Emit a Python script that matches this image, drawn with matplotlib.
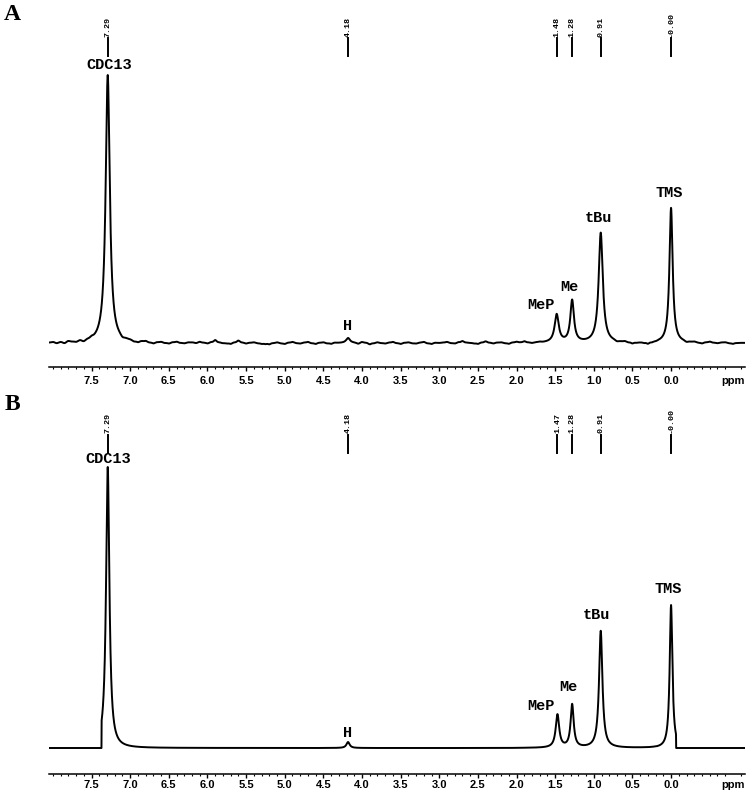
import numpy as np
import matplotlib.pyplot as plt

# ---- peak tables (shift in ppm, height in px above baseline) ----
peak_names = ['CDC13', 'H', 'MeP', 'Me', 'tBu', 'TMS']

peak_shift_a = [7.29, 4.18, 1.48, 1.28, 0.91, 0.00]
peak_height_a = [268, 5, 28, 42, 110, 135]
peak_hwhm_a = [0.032, 0.03, 0.032, 0.028, 0.032, 0.025]
shift_text_a = ['7.29', '4.18', '1.48', '1.28', '0.91', '-0.00']

peak_shift_b = [7.29, 4.18, 1.47, 1.28, 0.91, 0.00]
peak_height_b = [281, 6, 33, 43, 117, 143]
peak_hwhm_b = [0.026, 0.025, 0.027, 0.024, 0.026, 0.021]
# simulated trace B: each peak only defined between these limits (ppm)
peak_upper_b = [7.37, 4.6, 2.5, 2.5, 2.0, 0.8]
peak_lower_b = [5.0, 3.8, 0.3, 0.3, 0.2, -0.065]
shift_text_b = ['7.29', '4.18', '1.47', '1.28', '0.91', '-0.00']

# baseline ripple of trace A (ppm, px)
ripple_ppm = [8.0, 7.95, 7.9, 7.85, 7.8, 7.75, 7.7, 7.65, 7.6, 7.55, 7.5,
              7.1, 7.05, 7.0, 6.95, 6.9, 6.85, 6.8, 6.75, 6.7, 6.65, 6.6,
              6.55, 6.5, 6.45, 6.4, 6.35, 6.3, 6.25, 6.2, 6.15, 6.1, 6.05,
              6.0, 5.95, 5.9, 5.85, 5.8, 5.75, 5.7, 5.65, 5.6, 5.55, 5.5,
              5.45, 5.4, 5.35, 5.3, 5.25, 5.2, 5.15, 5.1, 5.05, 5.0, 4.95,
              4.9, 4.85, 4.8, 4.75, 4.7, 4.65, 4.6, 4.55, 4.5, 4.45, 4.4,
              4.35, 4.3, 4.05, 4.0, 3.95, 3.9, 3.85, 3.8, 3.75, 3.7, 3.65,
              3.6, 3.55, 3.5, 3.45, 3.4, 3.35, 3.3, 3.25, 3.2, 3.15, 3.1,
              3.05, 3.0, 2.95, 2.9, 2.85, 2.8, 2.75, 2.7, 2.65, 2.6, 2.55,
              2.5, 2.45, 2.4, 2.35, 2.3, 2.25, 2.2, 2.15, 2.1, 2.05, 2.0,
              1.95, 1.9, 1.85, 1.8, 1.75, 1.7, 0.7, 0.65, 0.6, 0.55, 0.5,
              0.45, 0.4, 0.35, 0.3, 0.25, 0.2, -0.2, -0.25, -0.3, -0.35,
              -0.4, -0.45, -0.5, -0.55, -0.6, -0.65, -0.7, -0.75, -0.8,
              -0.85, -0.9]
ripple_amp = [0.5, -0.8, 0.3, -1.0, 1.0, 0.2, -0.5, 0.8, -1.0, 0.5, 1.2,
              -1.2, 0.3, 0.5, -0.8, -1.0, 0.6, 1.0, -0.4, -1.2, 0.2, 0.6,
              -0.5, -1.0, 0.4, 1.0, -0.2, -0.6, 0.4, 0.5, -0.3, 1.0, 0.2,
              -0.6, 0.8, 2.8, 0.6, -0.3, -0.6, -1.0, 0.5, 2.3, 0.4, -0.6,
              0.2, 0.6, -0.4, -1.0, -1.2, -1.4, -0.2, 0.6, -0.4, -1.0, 0.3,
              1.0, -0.2, -0.6, 0.4, 1.0, -0.3, -1.0, 0.2, 0.6, -0.5, -1.0,
              0.2, 0.0, -1.0, 0.8, 0.2, -1.4, -0.4, 0.6, -0.2, -0.6, 0.4,
              1.0, -0.2, -1.0, 0.2, 0.6, -0.4, -0.6, 0.3, 1.0, -0.4, -1.0,
              0.2, 0.0, 0.5, 1.0, -0.2, -0.6, 0.8, 1.8, 0.4, 0.0, -0.6,
              -1.0, 0.4, 1.5, 0.2, -0.6, 0.3, 0.5, -0.4, -1.0, 0.3, 1.0,
              0.4, 1.4, 0.2, -0.5, 0.2, 0.5, -1.0, -0.2, 0.5, -0.6, -1.5,
              -0.8, -0.5, -1.2, -2.0, -1.0, -0.5, -1.0, 0.0, 0.5, -0.4,
              -1.0, 0.2, 1.0, 0.0, -0.5, 0.3, 0.5, -0.4, -1.0, -0.2, 0.0]

# label positions (ppm, px above baseline) - layout only
label_pos_a = [(7.27, 278), (4.19, 17), (1.68, 38), (1.32, 56), (0.94, 125), (0.03, 150)]
label_pos_b = [(7.28, 289), (4.19, 15), (1.69, 42), (1.33, 61), (0.96, 133), (0.04, 159)]

X_LEFT, X_RIGHT = 8.05, -0.957
MONO = 'Liberation Mono'
SANS = 'Liberation Sans'


def lorentz(x, x0, h, g):
    return h * g ** 2 / ((x - x0) ** 2 + g ** 2)


def build_trace(x, shifts, heights, widths, upper=None, lower=None):
    y = np.zeros_like(x)
    for i, (x0, h, g) in enumerate(zip(shifts, heights, widths)):
        part = lorentz(x, x0, h, g)
        if upper is not None:
            part[(x > upper[i]) | (x < lower[i])] = 0.0
        y += part
    return y


def draw_panel(ax, x, y, shifts, texts, label_pos, ylim, ann_line, ann_text_y,
               label_pad):
    ax.plot(x, y, color='black', lw=1.4)
    ax.set_xlim(X_LEFT, X_RIGHT)
    ax.set_ylim(*ylim)

    # peak names
    for name, (px, py) in zip(peak_names, label_pos):
        ax.text(px, py, name, ha='center', va='center', fontsize=11,
                family=MONO, fontweight='bold')

    # shift markers on top
    for s, t in zip(shifts, texts):
        ax.plot([s, s], ann_line, color='black', lw=1.4, clip_on=False)
        ax.text(s, ann_text_y, t, rotation=90, ha='center', va='bottom',
                fontsize=6, family=MONO, fontweight='bold')

    # ppm axis
    for side in ['left', 'right', 'top']:
        ax.spines[side].set_visible(False)
    ax.spines['bottom'].set_linewidth(1.1)
    ax.set_yticks([])
    majors = [7.5, 7.0, 6.5, 6.0, 5.5, 5.0, 4.5, 4.0, 3.5, 3.0, 2.5, 2.0,
              1.5, 1.0, 0.5, 0.0, -0.8]
    ax.set_xticks(majors)
    ax.set_xticklabels([f'{m:.1f}' for m in majors[:-1]] + ['ppm'])
    ax.get_xaxis().get_major_ticks()[-1].tick1line.set_visible(False)
    ax.set_xticks(np.round(np.arange(8.0, -0.95, -0.1), 1), minor=True)
    ax.tick_params(axis='x', which='major', length=3, width=1.0,
                   pad=label_pad, labelsize=8)
    ax.tick_params(axis='x', which='minor', length=1.5, width=0.8)
    for lab in ax.get_xticklabels():
        lab.set_fontfamily(SANS)
        lab.set_fontweight('bold')


x = np.linspace(X_LEFT, X_RIGHT, 8000)

trace_a = build_trace(x, peak_shift_a, peak_height_a, peak_hwhm_a)
for p, a in zip(ripple_ppm, ripple_amp):
    trace_a += a * np.exp(-0.5 * ((x - p) / 0.018) ** 2)

trace_b = build_trace(x, peak_shift_b, peak_height_b, peak_hwhm_b,
                      peak_upper_b, peak_lower_b)

fig = plt.figure(figsize=(7.5, 7.91), dpi=100)
W, H = 750.0, 791.0

# panel A: axis line at y=367 px, baseline at 343 px
ax_a = fig.add_axes([49 / W, (H - 367) / H, 696 / W, 367 / H])
draw_panel(ax_a, x, trace_a, peak_shift_a, shift_text_a, label_pos_a,
           (-24, 343), [287, 305], 306, 3.5)

# panel B: axis line at y=774 px, baseline at 748 px
ax_b = fig.add_axes([49 / W, (H - 774) / H, 696 / W, 379 / H])
draw_panel(ax_b, x, trace_b, peak_shift_b, shift_text_b, label_pos_b,
           (-26, 353), [295, 313], 315, 1.5)

fig.text(12 / W, 1 - 14 / H, 'A', ha='center', va='center', fontsize=17,
         family='Liberation Serif', fontweight='bold')
fig.text(12 / W, 1 - 404 / H, 'B', ha='center', va='center', fontsize=17,
         family='Liberation Serif', fontweight='bold')

fig.savefig('out.png', dpi=100)
plt.close(fig)
